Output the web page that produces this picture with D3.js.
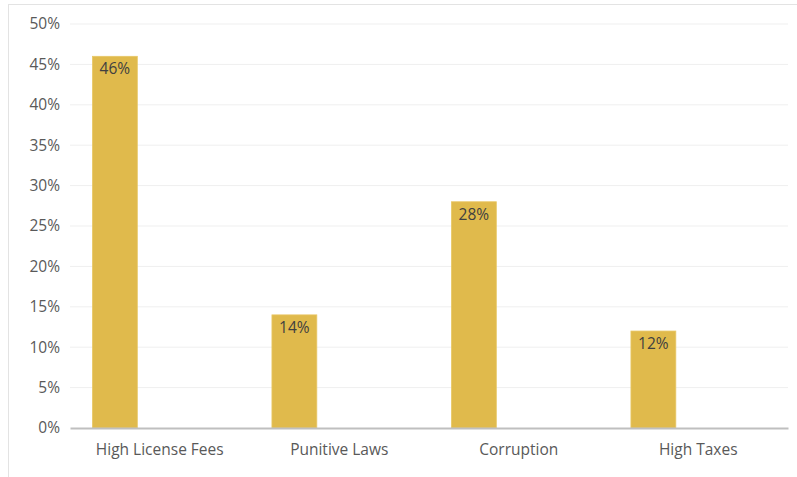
<!DOCTYPE html>
<html>
<head>
<meta charset="utf-8">
<script src="https://cdn.jsdelivr.net/npm/d3@7"></script>
<style>
  html, body { margin: 0; padding: 0; background: #fff; }
  svg { display: block; }
</style>
</head>
<body>
<svg id="chart" width="797" height="477"></svg>
<script>
// Share of respondents citing each barrier
const categories = ["High License Fees", "Punitive Laws", "Corruption", "High Taxes"];
const shares = [46, 14, 28, 12];
const yTicks = [0, 5, 10, 15, 20, 25, 30, 35, 40, 45, 50];

const svg = d3.select("#chart");
const W = 797, H = 477;
const plot = { left: 70, right: 788, top: 24, bottom: 428 };
const font = "'Open Sans', 'Segoe UI', sans-serif";
const fs = 15.5;

// Outer frame (top and left edges visible)
svg.append("rect")
  .attr("x", 8.5).attr("y", 4.5)
  .attr("width", W + 10).attr("height", H + 10)
  .attr("fill", "#fff")
  .attr("stroke", "#e3e3e3").attr("stroke-width", 1);

const x = d3.scaleBand().domain(categories).range([plot.left, plot.right]).padding(0);
const y = d3.scaleLinear().domain([0, 50]).range([plot.bottom, plot.top]);

// Horizontal gridlines
svg.append("g")
  .selectAll("line")
  .data(yTicks.filter(t => t > 0))
  .join("line")
  .attr("x1", plot.left).attr("x2", plot.right)
  .attr("y1", d => y(d)).attr("y2", d => y(d))
  .attr("stroke", "#efefef").attr("stroke-width", 1);

// Y axis labels
const yAxis = d3.axisLeft(y).tickValues(yTicks).tickFormat(d => d + "%").tickSize(0).tickPadding(10);
const gy = svg.append("g").attr("transform", `translate(${plot.left},0)`).call(yAxis);
gy.select(".domain").remove();
gy.selectAll("text")
  .attr("font-family", font).attr("font-size", fs).attr("fill", "#595959");

// Bars sit in the left part of each category slot
const barOffset = x.bandwidth() * 0.125;
const barWidth = x.bandwidth() * 0.25;

svg.append("g")
  .selectAll("rect")
  .data(categories.map((c, i) => ({ c, v: shares[i] })))
  .join("rect")
  .attr("x", d => x(d.c) + barOffset)
  .attr("y", d => y(d.v))
  .attr("width", barWidth)
  .attr("height", d => y(0) - y(d.v))
  .attr("fill", "#e0ba4c")
  .attr("stroke", "#e8c766").attr("stroke-width", 0.8);

// Value labels inside bar tops
svg.append("g")
  .selectAll("text")
  .data(categories.map((c, i) => ({ c, v: shares[i] })))
  .join("text")
  .attr("x", d => x(d.c) + barOffset + barWidth / 2)
  .attr("y", d => y(d.v) + 18)
  .attr("text-anchor", "middle")
  .attr("font-family", font).attr("font-size", fs)
  .attr("fill", "#404040")
  .text(d => d.v + "%");

// X axis baseline and category labels
const xAxis = d3.axisBottom(x).tickSize(0).tickPadding(16);
const gx = svg.append("g").attr("transform", `translate(0,${plot.bottom})`).call(xAxis);
gx.select(".domain").attr("stroke", "#bfbfbf").attr("stroke-width", 2);
gx.selectAll("text")
  .attr("font-family", font).attr("font-size", fs).attr("fill", "#595959");
</script>
</body>
</html>
